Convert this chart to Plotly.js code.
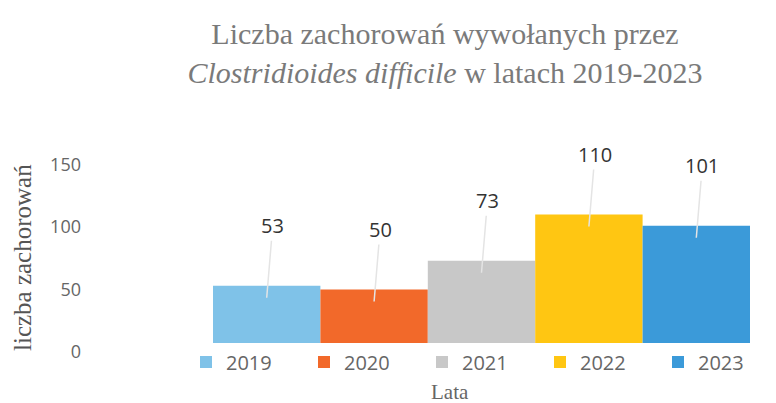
<!DOCTYPE html>
<html>
<head>
<meta charset="utf-8">
<script src="https://cdn.plot.ly/plotly-3.0.1.min.js"></script>
<style>html,body{margin:0;padding:0;background:#fff;}#chart{width:776px;height:403px;}</style>
</head>
<body>
<div id="chart"></div>
<script>
const years = ["2019", "2020", "2021", "2022", "2023"];
const cases = [53, 50, 73, 110, 101];
const colors = ["#7fc2e8", "#f2692a", "#c8c8c8", "#ffc612", "#3b9ad9"];
const tickValues = [0, 50, 100, 150];

const traces = years.map((yr, i) => ({
  type: "bar",
  name: yr,
  x: [yr],
  y: [cases[i]],
  width: 1,
  marker: {color: colors[i]},
  hoverinfo: "x+y"
}));

const annotations = years.map((yr, i) => ({
  x: i, y: cases[i], xref: "x", yref: "y",
  text: String(cases[i]),
  showarrow: true, arrowhead: 0, arrowwidth: 1.5, arrowcolor: "#e4e4e4",
  ax: 6, ay: -72, yshift: -12, standoff: 0,
  font: {family: "Open Sans, Lato, sans-serif", size: 20, color: "#333333"}
}));

annotations.push({
  text: "Lata", xref: "paper", yref: "paper", x: (450 - 213) / 537, y: -0.2,
  xanchor: "center", yanchor: "middle", showarrow: false,
  font: {family: "Liberation Serif, serif", size: 21, color: "#666666"}
});
annotations.push({
  text: "liczba zachorowań", xref: "paper", yref: "paper", x: (22 - 213) / 537, y: (352 - 258) / 200,
  xanchor: "center", yanchor: "middle", textangle: -90, showarrow: false,
  font: {family: "Liberation Serif, serif", size: 25, color: "#555555"}
});

const layout = {
  width: 776, height: 403,
  margin: {l: 213, r: 26, t: 152, b: 51},
  paper_bgcolor: "#ffffff", plot_bgcolor: "#ffffff",
  barmode: "overlay",
  title: {
    text: "Liczba zachorowań wywołanych przez<br><i>Clostridioides difficile</i> w latach 2019-2023",
    x: 445 / 776, xanchor: "center", yref: "container", y: 0.89, yanchor: "top",
    font: {family: "Liberation Serif, serif", size: 30, color: "#7a7a7a"}
  },
  xaxis: {
    type: "category", categoryorder: "array", categoryarray: years,
    range: [-0.5, 4.5], showticklabels: false, showgrid: false, zeroline: false,
    showline: false, ticks: "", fixedrange: true
  },
  yaxis: {
    range: [0, 160], tickvals: tickValues, ticktext: tickValues.map(String),
    showgrid: false, zeroline: false, showline: false, ticks: "",
    ticklabelstandoff: 131,
    tickfont: {family: "Open Sans, Lato, sans-serif", size: 18, color: "#666666"},
    fixedrange: true
  },
  showlegend: true,
  legend: {
    orientation: "h", x: (206 - 213) / 537, xanchor: "left", y: -0.05, yanchor: "middle",
    entrywidth: 73, entrywidthmode: "pixels", traceorder: "normal",
    font: {family: "Open Sans, Lato, sans-serif", size: 20, color: "#666666"},
    itemsizing: "constant"
  },
  annotations: annotations
};

Plotly.newPlot("chart", traces, layout, {displayModeBar: false, staticPlot: true});
</script>
</body>
</html>
